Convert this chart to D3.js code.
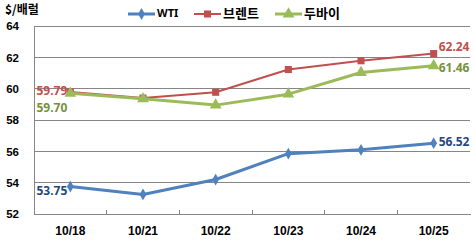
<!DOCTYPE html>
<html><head><meta charset="utf-8">
<script src="https://cdn.jsdelivr.net/npm/d3@7"></script>
<style>
html,body{margin:0;padding:0;background:#fff;}
svg{display:block;font-family:"Noto Sans","Noto Sans CJK KR",sans-serif;}
</style></head>
<body>
<svg id="c" width="475" height="241"></svg>
<script>
const categories = ["10/18","10/21","10/22","10/23","10/24","10/25"];
const wti   = [53.75, 53.25, 54.2, 55.85, 56.1, 56.52];
const brent = [59.79, 59.4, 59.77, 61.22, 61.78, 62.24];
const dubai = [59.70, 59.35, 58.95, 59.65, 61.03, 61.46];
const yTicks = [52,54,56,58,60,62,64];
const unitLabel = "$/배럴";
const seriesNames = ["WTI","브렌트","두바이"];

const svg = d3.select("#c");
const L = 34, R = 470, T = 26, B = 214;
const x = d3.scaleBand().domain(categories).range([L, R]);
const y = d3.scaleLinear().domain([52, 64]).range([B, T]);
const cx = d => x(d) + x.bandwidth()/2;

// gridlines
svg.append("g").selectAll("line").data(yTicks.filter(t => t > 52)).join("line")
  .attr("x1", L).attr("x2", R).attr("y1", d => y(d)).attr("y2", d => y(d))
  .attr("stroke", "#868686").attr("stroke-width", 1).attr("shape-rendering","crispEdges");

// axes
const yAxis = d3.axisLeft(y).tickValues(yTicks).tickSize(0).tickPadding(15);
const gy = svg.append("g").attr("transform", `translate(${L},0)`).call(yAxis);
gy.select(".domain").attr("stroke", "#868686").attr("shape-rendering","crispEdges");
gy.selectAll("text").attr("font-size", 11.5).attr("font-weight", "bold").attr("fill", "#000");

const xAxis = d3.axisBottom(x).tickSize(0).tickPadding(12);
const gx = svg.append("g").attr("transform", `translate(0,${B})`).call(xAxis);
gx.select(".domain").attr("stroke", "#868686").attr("shape-rendering","crispEdges");
gx.selectAll("text").attr("font-size", 12).attr("font-weight", "bold").attr("fill", "#000");
// boundary tick marks (inward)
svg.append("g").selectAll("line").data(categories.slice(1)).join("line")
  .attr("x1", d => x(d)).attr("x2", d => x(d)).attr("y1", B).attr("y2", B - 4)
  .attr("stroke", "#868686").attr("shape-rendering","crispEdges");

// unit label
svg.append("text").attr("x", 5).attr("y", 14).text(unitLabel)
  .attr("font-size", 12).attr("font-weight", "bold").attr("fill", "#000")
  .attr("font-family", "'Noto Sans CJK KR', sans-serif");

const series = [
  {name: seriesNames[0], values: wti, color: "#4F81BD", width: 3, marker: d3.symbolDiamond, msize: 40, label: "#1F497D"},
  {name: seriesNames[1], values: brent, color: "#C0504D", width: 2, marker: d3.symbolSquare, msize: 50, label: "#C0504D"},
  {name: seriesNames[2], values: dubai, color: "#9BBB59", width: 3, marker: d3.symbolTriangle, msize: 60, label: "#76923C"}
];

const line = d3.line().x((d,i) => cx(categories[i])).y(d => y(d));
series.forEach(s => {
  svg.append("path").datum(s.values).attr("d", line)
    .attr("fill", "none").attr("stroke", s.color).attr("stroke-width", s.width)
    .attr("stroke-linejoin", "round");
  svg.append("g").selectAll("path").data(s.values).join("path")
    .attr("d", d3.symbol().type(s.marker).size(s.msize))
    .attr("transform", (d,i) => `translate(${cx(categories[i])},${y(d)})`)
    .attr("fill", s.color);
});

// data labels
const lbl = (txt, xx, yy, color, anchor) => svg.append("text")
  .attr("x", xx).attr("y", yy).text(txt).attr("text-anchor", anchor)
  .attr("dominant-baseline", "middle")
  .attr("font-size", 12).attr("font-weight", "bold").attr("fill", color);
const first = 0, last = categories.length - 1;
lbl(wti[first].toFixed(2), cx(categories[first]) - 3, y(wti[first]) + 5, series[0].label, "end");
lbl(brent[first].toFixed(2), cx(categories[first]) - 3, y(brent[first]), series[1].label, "end");
lbl(dubai[first].toFixed(2), cx(categories[first]) - 3, y(dubai[first]) + 15, series[2].label, "end");
lbl(wti[last].toFixed(2), cx(categories[last]) + 5, y(wti[last]), series[0].label, "start");
lbl(brent[last].toFixed(2), cx(categories[last]) + 5, y(brent[last]) - 6, series[1].label, "start");
lbl(dubai[last].toFixed(2), cx(categories[last]) + 5, y(dubai[last]) + 3, series[2].label, "start");

// legend
const legX = [128, 194, 275];
const legTextFont = ["'Noto Sans', sans-serif", "'Noto Sans CJK KR', sans-serif", "'Noto Sans CJK KR', sans-serif"];
series.forEach((s, i) => {
  const g = svg.append("g");
  g.append("line").attr("x1", legX[i]).attr("x2", legX[i] + 27).attr("y1", 14).attr("y2", 14)
    .attr("stroke", s.color).attr("stroke-width", s.width);
  g.append("path").attr("d", d3.symbol().type(s.marker).size(s.msize))
    .attr("transform", `translate(${legX[i] + 13.5},14)`).attr("fill", s.color);
  g.append("text").attr("x", legX[i] + 29).attr("y", 14).attr("dominant-baseline", "middle")
    .text(s.name).attr("font-size", i === 0 ? 11 : 13).attr("font-weight", "bold")
    .attr("font-family", legTextFont[i]).attr("fill", "#000");
});
</script>
</body></html>
